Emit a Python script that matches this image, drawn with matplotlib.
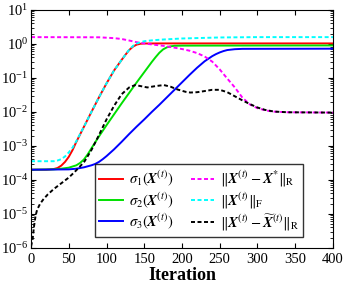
import numpy as np
import matplotlib
matplotlib.use('Agg')
import matplotlib.pyplot as plt

plt.rcParams['font.family'] = ['Liberation Serif', 'DejaVu Serif']
plt.rcParams['mathtext.fontset'] = 'stix'

# values, stored as log10 of the plotted quantity
t_s1 = [0, 20, 30, 35, 40, 45, 50, 55, 60, 70, 80, 90, 100, 110, 120, 125, 130,
        135, 140, 145, 150, 170, 400]
s1_exp = [-3.70, -3.70, -3.68, -3.65, -3.58, -3.47, -3.32, -3.12, -2.88, -2.44,
          -2.00, -1.57, -1.16, -0.78, -0.47, -0.32, -0.18, -0.08, -0.02, 0.005,
          0.012, 0.015, 0.015]

t_s2 = [0, 30, 40, 50, 60, 65, 70, 75, 80, 90, 100, 110, 120, 130, 140, 150,
        160, 165, 170, 175, 180, 185, 190, 200, 400]
s2_exp = [-3.70, -3.69, -3.67, -3.64, -3.57, -3.50, -3.40, -3.25, -3.07, -2.72,
          -2.39, -2.07, -1.75, -1.44, -1.13, -0.83, -0.53, -0.39, -0.26, -0.16,
          -0.10, -0.07, -0.055, -0.05, -0.045]

t_s3 = [0, 50, 60, 70, 80, 85, 90, 95, 100, 105, 110, 120, 130, 140, 150, 160,
        170, 180, 190, 200, 210, 220, 230, 240, 245, 250, 255, 260, 270, 280, 400]
s3_exp = [-3.70, -3.69, -3.67, -3.63, -3.57, -3.53, -3.47, -3.39, -3.30, -3.20,
          -3.10, -2.88, -2.65, -2.43, -2.22, -2.00, -1.79, -1.57, -1.35, -1.13,
          -0.91, -0.70, -0.51, -0.36, -0.30, -0.25, -0.21, -0.18, -0.155, -0.145,
          -0.14]

t_err = [0, 90, 110, 120, 130, 140, 150, 160, 175, 190, 200, 210, 220, 230, 240,
         250, 260, 270, 280, 290, 300, 310, 320, 340, 400]
err_exp = [0.20, 0.195, 0.17, 0.145, 0.10, 0.05, 0.015, -0.015, -0.055, -0.11,
           -0.15, -0.20, -0.27, -0.37, -0.52, -0.75, -1.02, -1.28, -1.58, -1.78,
           -1.89, -1.95, -1.99, -2.01, -2.02]

t_fro = [0, 30, 35, 40, 45, 50, 55, 60, 70, 80, 90, 100, 110, 120, 125, 130,
         135, 140, 145, 150, 160, 175, 200, 250, 300, 400]
fro_exp = [-3.45, -3.45, -3.43, -3.39, -3.31, -3.19, -3.05, -2.86, -2.44, -2.00,
           -1.57, -1.16, -0.78, -0.47, -0.32, -0.17, -0.06, 0.01, 0.05, 0.08,
           0.105, 0.13, 0.16, 0.19, 0.20, 0.20]

t_gap = [0, 2, 4, 6, 8, 12, 16, 22, 30, 40, 50, 58, 65, 71, 80, 90, 100, 110,
         120, 130, 138, 145, 154, 165, 176, 185, 194, 205, 211, 220, 229, 240,
         250, 260, 270, 280, 290, 300, 310, 322, 340, 400]
gap_exp = [-5.95, -5.75, -5.35, -5.05, -4.88, -4.70, -4.58, -4.43, -4.27, -4.10,
           -3.93, -3.76, -3.60, -3.45, -3.12, -2.68, -2.22, -1.82, -1.48, -1.28,
           -1.21, -1.24, -1.28, -1.24, -1.21, -1.26, -1.34, -1.41, -1.43, -1.42,
           -1.39, -1.35, -1.35, -1.42, -1.54, -1.66, -1.77, -1.87, -1.94, -1.99,
           -2.01, -2.02]

X = r'\mathbfit{X}'
labels = [r'$\sigma_1(%s^{(t)})$' % X,
          r'$\sigma_2(%s^{(t)})$' % X,
          r'$\sigma_3(%s^{(t)})$' % X,
          r'$\|%s^{(t)} - %s^{*}\|_{\mathrm{R}}$' % (X, X),
          r'$\|%s^{(t)}\|_{\mathrm{F}}$' % X,
          r'$\|%s^{(t)} - \widetilde{%s}^{(t)}\|_{\mathrm{R}}$' % (X, X)]

fig = plt.figure(figsize=(3.49, 2.92), dpi=100)
ax = fig.add_axes([0.089, 0.151, 0.865, 0.815])

dash = (0, (2.05, 1.3))
lw = 1.4
ax.plot(t_s1, 10 ** np.array(s1_exp), color='#ff0000', lw=lw, label=labels[0])
ax.plot(t_s2, 10 ** np.array(s2_exp), color='#00e000', lw=lw, label=labels[1])
ax.plot(t_s3, 10 ** np.array(s3_exp), color='#0000ff', lw=lw, label=labels[2])
ax.plot(t_err, 10 ** np.array(err_exp), color='#ff00ff', lw=lw, ls=dash, label=labels[3])
ax.plot(t_fro, 10 ** np.array(fro_exp), color='#00ffff', lw=lw, ls=dash, label=labels[4])
ax.plot(t_gap, 10 ** np.array(gap_exp), color='black', lw=lw, ls=dash, label=labels[5])

ax.set_yscale('log')
ax.set_xlim(0, 400)
ax.set_ylim(1e-6, 1e1)
ax.set_xticks(np.arange(0, 401, 50))
ax.tick_params(which='both', direction='in', top=True, right=True, labelsize=10.5)
ax.tick_params(axis='y', pad=2)
ax.tick_params(which='major', length=3.5)
ax.tick_params(which='minor', length=2)
ax.set_xlabel('Iteration', fontsize=13, fontweight='bold', labelpad=1)

leg = ax.legend(ncol=2, loc='lower right', bbox_to_anchor=(0.902, 0.045),
                borderaxespad=0, fontsize=10.5, frameon=True, fancybox=False,
                edgecolor='black', handlelength=1.6, columnspacing=1.2,
                labelspacing=0.1, handletextpad=0.4, borderpad=0.3)
leg.get_frame().set_linewidth(1.0)

fig.savefig('out.png', dpi=100)
